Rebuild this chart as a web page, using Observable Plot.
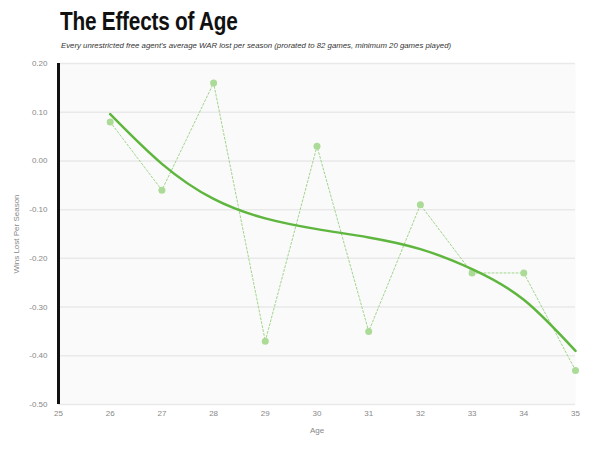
<!DOCTYPE html>
<html>
<head>
<meta charset="utf-8">
<script src="https://cdn.jsdelivr.net/npm/d3@7"></script>
<script src="https://cdn.jsdelivr.net/npm/@observablehq/plot@0.6"></script>
<style>
  body { margin: 0; background: #fff; width: 600px; height: 449px; overflow: hidden; }
  #head { position: relative; height: 55px; }
  #title { position: absolute; left: 60px; top: 6px; font-family: "Liberation Sans", Arial, sans-serif; font-weight: bold; font-size: 26px; color: #111; white-space: nowrap; transform: scaleX(0.8); transform-origin: left top; letter-spacing: -0.3px; }
  #sub { position: absolute; left: 61px; top: 41px; font-family: "Liberation Sans", Arial, sans-serif; font-style: italic; font-size: 7.8px; color: #333; white-space: nowrap; }
</style>
</head>
<body>
<div id="head">
  <div id="title">The Effects of Age</div>
  <div id="sub">Every unrestricted free agent's average WAR lost per season (prorated to 82 games, minimum 20 games played)</div>
</div>
<div id="chart"></div>
<script>
const ages = [26, 27, 28, 29, 30, 31, 32, 33, 34, 35];
const winsLost = [0.08, -0.06, 0.16, -0.37, 0.03, -0.35, -0.09, -0.23, -0.23, -0.43];
const trendAges = [26, 27, 28, 29, 30, 31, 32, 33, 34, 35];
const trendValues = [0.096, -0.006, -0.078, -0.118, -0.140, -0.157, -0.181, -0.222, -0.285, -0.390];
const xTicks = [25, 26, 27, 28, 29, 30, 31, 32, 33, 34, 35];
const yTicks = [0.2, 0.1, 0, -0.1, -0.2, -0.3, -0.4, -0.5];

const points = ages.map((a, i) => ({age: a, v: winsLost[i]}));
const trend = trendAges.map((a, i) => ({age: a, v: trendValues[i]}));

const chart = Plot.plot({
  width: 600,
  height: 394,
  marginTop: 8,
  marginBottom: 45,
  marginLeft: 58,
  marginRight: 25,
  style: {fontFamily: "Liberation Sans, Arial, sans-serif", fontSize: "8px", color: "#777", background: "#fff"},
  x: {domain: [25, 35]},
  y: {domain: [-0.5, 0.2]},
  marks: [
    Plot.frame({fill: "#fafafa", stroke: null}),
    Plot.gridY(yTicks, {stroke: "#e9e9e9", strokeOpacity: 1, strokeWidth: 1.5}),
    Plot.axisY(yTicks, {tickSize: 0, tickPadding: 11, tickFormat: d => d.toFixed(2), label: "Wins Lost Per Season", labelAnchor: "center", labelArrow: "none", labelOffset: 45, fill: "#888"}),
    Plot.axisX(xTicks, {tickSize: 0, tickPadding: 6, label: "Age", labelAnchor: "center", labelArrow: "none", labelOffset: 28, fill: "#888"}),
    Plot.ruleX([25], {stroke: "#111", strokeWidth: 3}),
    Plot.line(points, {x: "age", y: "v", stroke: "#9fd68a", strokeWidth: 1, strokeDasharray: "2,2"}),
    Plot.dot(points, {x: "age", y: "v", r: 3.5, fill: "#acdb98", stroke: null}),
    Plot.line(trend, {x: "age", y: "v", curve: "natural", stroke: "#5fb63f", strokeWidth: 2.5})
  ]
});
document.getElementById("chart").appendChild(chart);
</script>
</body>
</html>
